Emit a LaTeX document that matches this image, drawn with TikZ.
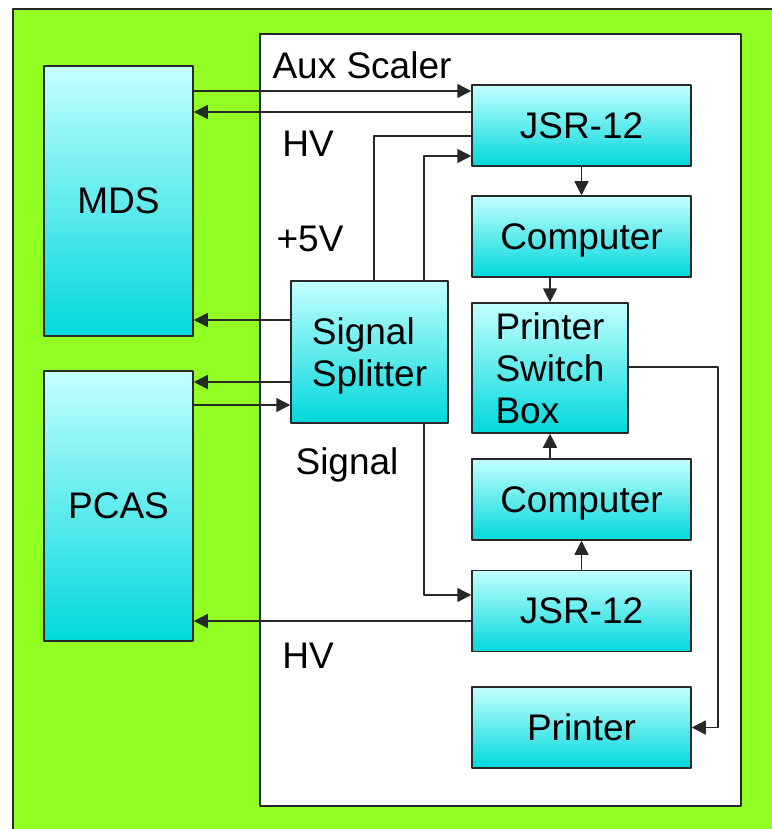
\documentclass[tikz,border=0pt]{standalone}
\usepackage{fontspec}
\setmainfont{Liberation Sans}
\usetikzlibrary{arrows.meta}
\definecolor{bggreen}{RGB}{145,255,35}
\definecolor{boxtop}{RGB}{196,255,255}
\definecolor{boxbot}{RGB}{0,216,220}
\definecolor{edge}{RGB}{40,40,40}
\begin{document}
\begin{tikzpicture}[x=1pt, y=-1pt, line join=round,
		unit/.style={draw=edge, line width=1.5pt, top color=boxtop, bottom color=boxbot,
			minimum width=219pt, minimum height=81pt, inner sep=0pt, text depth=0pt,
			font=\fontsize{37}{42}\selectfont},
		lbl/.style={anchor=base, inner sep=0pt, font=\fontsize{37}{42}\selectfont},
		wire/.style={draw=edge, line width=1.5pt},
		arr/.style={wire, -{Triangle[length=14pt, width=14pt]}}]
	\useasboundingbox (0,0) rectangle (771,829);
	\fill[bggreen, draw=edge, line width=2pt] (13,9) rectangle (790,850);
	\fill[white, draw=edge, line width=1.5pt] (260,34) rectangle (741,806);
	\node[unit, minimum width=149pt, minimum height=270pt] (mds) at (118.5,201) {MDS};
	\node[unit, minimum width=149pt, minimum height=270pt] (pcas) at (118.5,506) {PCAS};
	\node[unit] (jsrA) at (581.5,125.5) {JSR-12};
	\node[unit] (compA) at (581.5,236.5) {Computer};
	\node[unit, minimum width=156pt, minimum height=130pt, align=left] (psb) at (550,368) {Printer\\Switch\\Box};
	\node[unit] (compB) at (581.5,499.5) {Computer};
	\node[unit] (jsrB) at (581.5,611) {JSR-12};
	\node[unit] (printer) at (581.5,727.5) {Printer};
	\node[unit, minimum width=157pt, minimum height=142pt, align=left] (split) at (369.5,352) {Signal\\Splitter};
	\node[lbl] (aux) at (362,79) {Aux Scaler};
	\node[lbl] (hvA) at (308,157) {HV};
	\node[lbl] (five) at (310,251) {+5V};
	\node[lbl] (sig) at (347,474) {Signal};
	\node[lbl] (hvB) at (308,668) {HV};
	\draw[arr] ([yshift=110]mds.east) -- ([yshift=34.5]jsrA.west);
	\draw[arr] ([yshift=13.5]jsrA.west) -- ([yshift=89]mds.east);
	\draw[wire] ([yshift=-10.5]jsrA.west) -| ([xshift=4.5]split.north);
	\draw[arr] ([xshift=54.5]split.north) |- ([yshift=-30.5]jsrA.west);
	\draw[arr] (jsrA) -- (compA);
	\draw[arr] (compA.south -| psb.north) -- (psb.north);
	\draw[arr] (compB.north -| psb.south) -- (psb.south);
	\draw[arr] (jsrB) -- (compB);
	\draw[arr] ([xshift=54.5]split.south) |- ([yshift=16]jsrB.west);
	\draw[arr] ([yshift=-10]jsrB.west) -- ([yshift=-115]pcas.east);
	\draw[arr] ([yshift=32]split.west) -- ([yshift=-119]mds.east);
	\draw[arr] ([yshift=-30]split.west) -- ([yshift=124]pcas.east);
	\draw[arr] ([yshift=101]pcas.east) -- ([yshift=-53]split.west);
	\draw[arr] ([yshift=1]psb.east) -- ++(89,0) |- (printer.east);
\end{tikzpicture}
\end{document}
